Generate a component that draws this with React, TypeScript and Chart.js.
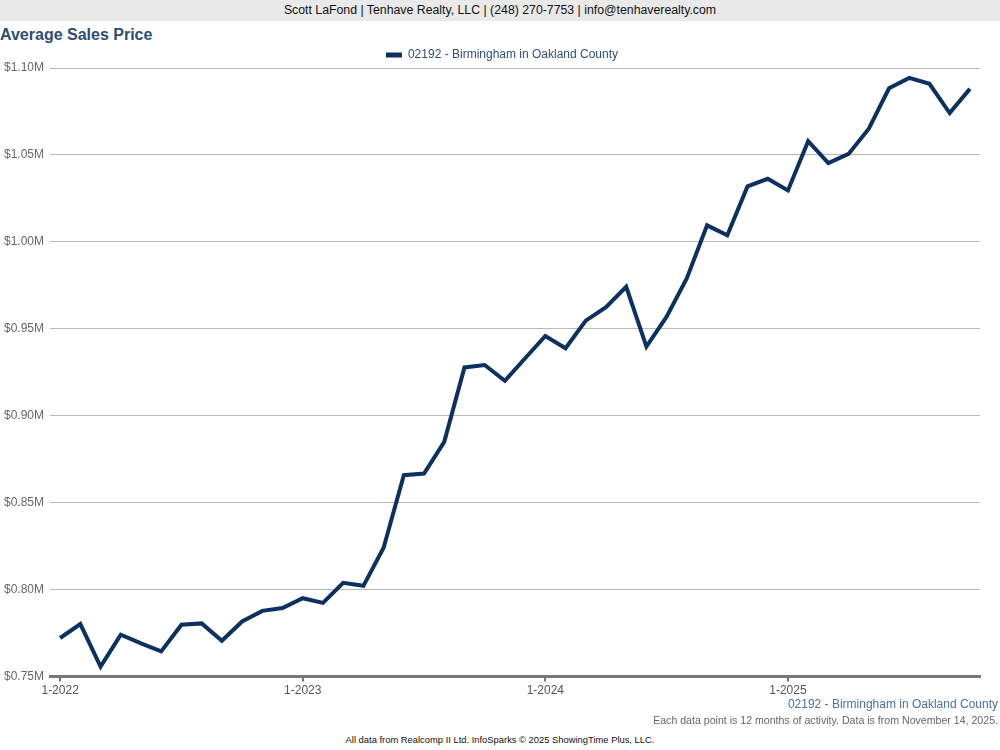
import React, { useEffect, useRef } from "react";
import { Chart, registerables } from "chart.js";

Chart.register(...registerables);

const months: string[] = [
  "1-2022","2-2022","3-2022","4-2022","5-2022","6-2022","7-2022","8-2022","9-2022","10-2022","11-2022","12-2022",
  "1-2023","2-2023","3-2023","4-2023","5-2023","6-2023","7-2023","8-2023","9-2023","10-2023","11-2023","12-2023",
  "1-2024","2-2024","3-2024","4-2024","5-2024","6-2024","7-2024","8-2024","9-2024","10-2024","11-2024","12-2024",
  "1-2025","2-2025","3-2025","4-2025","5-2025","6-2025","7-2025","8-2025","9-2025","10-2025",
];

const avgSalesPrice: number[] = [
  772200, 780200, 755700, 774100, 769100, 764500, 779800, 780600, 770600, 781700, 787800, 789400,
  795100, 792400, 803900, 802200, 824100, 865800, 866800, 885000, 927800, 929200, 920100, 933100,
  945900, 938800, 954700, 962400, 974200, 939800, 957000, 979100, 1009500, 1003800, 1031900, 1036300,
  1029600, 1057900, 1045300, 1050600, 1065100, 1088300, 1094300, 1090900, 1074100, 1088000,
];

const seriesName = "02192 - Birmingham in Oakland County";
const yTicks: number[] = [750000, 800000, 850000, 900000, 950000, 1000000, 1050000, 1100000];

const FONT = "'Liberation Sans', Arial, Helvetica, sans-serif";
const LINE = "#0b3161";

const legendShift = {
  id: "legendShift",
  afterLayout(chart: any) {
    if (chart.legend) {
      chart.legend.left += 26;
      chart.legend.top += 3;
    }
  },
};

export default function App() {
  const ref = useRef<HTMLCanvasElement | null>(null);

  useEffect(() => {
    document.body.style.margin = "0";
    if (!ref.current) return;
    const chart = new Chart(ref.current, {
      type: "line",
      data: {
        labels: months,
        datasets: [
          {
            label: seriesName,
            data: avgSalesPrice,
            borderColor: LINE,
            backgroundColor: LINE,
            borderWidth: 4,
            pointRadius: 0,
            pointHoverRadius: 0,
            tension: 0,
            fill: false,
          },
        ],
      },
      plugins: [legendShift],
      options: {
        animation: false,
        responsive: false,
        maintainAspectRatio: false,
        layout: { padding: { left: 4, right: 14, top: 0, bottom: 0 } },
        plugins: {
          tooltip: { enabled: false },
          legend: {
            display: true,
            position: "top",
            align: "center",
            labels: {
              boxWidth: 16,
              boxHeight: 5,
              padding: 14,
              color: "#2d4f78",
              font: { family: FONT, size: 12 },
              generateLabels: (c: any) =>
                Chart.defaults.plugins.legend.labels
                  .generateLabels(c)
                  .map((l: any) => ({ ...l, lineWidth: 0, fillStyle: LINE })),
            },
          },
        },
        scales: {
          x: {
            type: "category",
            offset: true,
            grid: {
              display: true,
              drawOnChartArea: false,
              drawTicks: true,
              tickLength: 5,
              lineWidth: 2,
              color: (ctx: any) =>
                months[ctx.index] && months[ctx.index].startsWith("1-") ? "#777777" : "rgba(0,0,0,0)",
            },
            border: { display: true, color: "#777777", width: 3 },
            ticks: {
              autoSkip: false,
              maxRotation: 0,
              padding: 2,
              color: "#555555",
              font: { family: FONT, size: 12 },
              callback: (_v: any, i: number) => (months[i].startsWith("1-") ? months[i] : ""),
            },
          },
          y: {
            min: yTicks[0],
            max: yTicks[yTicks.length - 1],
            afterBuildTicks: (axis: any) => {
              axis.ticks = yTicks.map((v) => ({ value: v }));
            },
            grid: { color: "#b8b8b8", lineWidth: 1, drawTicks: false },
            border: { display: false },
            ticks: {
              padding: 6,
              color: "#666666",
              font: { family: FONT, size: 12 },
              callback: (v: any) => "$" + (Number(v) / 1000000).toFixed(2) + "M",
            },
          },
        },
      },
    });
    return () => chart.destroy();
  }, []);

  return (
    <div
      style={{
        position: "relative",
        width: 1000,
        height: 750,
        fontFamily: FONT,
        background: "#ffffff",
        overflow: "hidden",
      }}
    >
      <div
        style={{
          position: "absolute",
          left: 0,
          top: 0,
          width: 1000,
          height: 21,
          background: "#e9e9e9",
          color: "#111",
          fontSize: 12.3,
          lineHeight: "21px",
          textAlign: "center",
        }}
      >
        Scott LaFond | Tenhave Realty, LLC | (248) 270-7753 | info@tenhaverealty.com
      </div>
      <div
        style={{
          position: "absolute",
          left: 0,
          top: 25,
          fontSize: 16,
          fontWeight: "bold",
          color: "#2c4d74",
          lineHeight: "20px",
        }}
      >
        Average Sales Price
      </div>
      <canvas
        ref={ref}
        width={1000}
        height={668}
        style={{ position: "absolute", left: -6, top: 32, width: 1000, height: 668 }}
      />
      <div
        style={{
          position: "absolute",
          right: 2,
          top: 696,
          fontSize: 12,
          color: "#4a70a0",
          lineHeight: "16px",
        }}
      >
        {seriesName}
      </div>
      <div
        style={{
          position: "absolute",
          right: 2,
          top: 713,
          fontSize: 10.6,
          color: "#666666",
          lineHeight: "14px",
        }}
      >
        Each data point is 12 months of activity. Data is from November 14, 2025.
      </div>
      <div
        style={{
          position: "absolute",
          left: 0,
          width: 1000,
          top: 733,
          fontSize: 9.4,
          color: "#111",
          lineHeight: "13px",
          textAlign: "center",
        }}
      >
        All data from Realcomp II Ltd. InfoSparks © 2025 ShowingTime Plus, LLC.
      </div>
    </div>
  );
}
